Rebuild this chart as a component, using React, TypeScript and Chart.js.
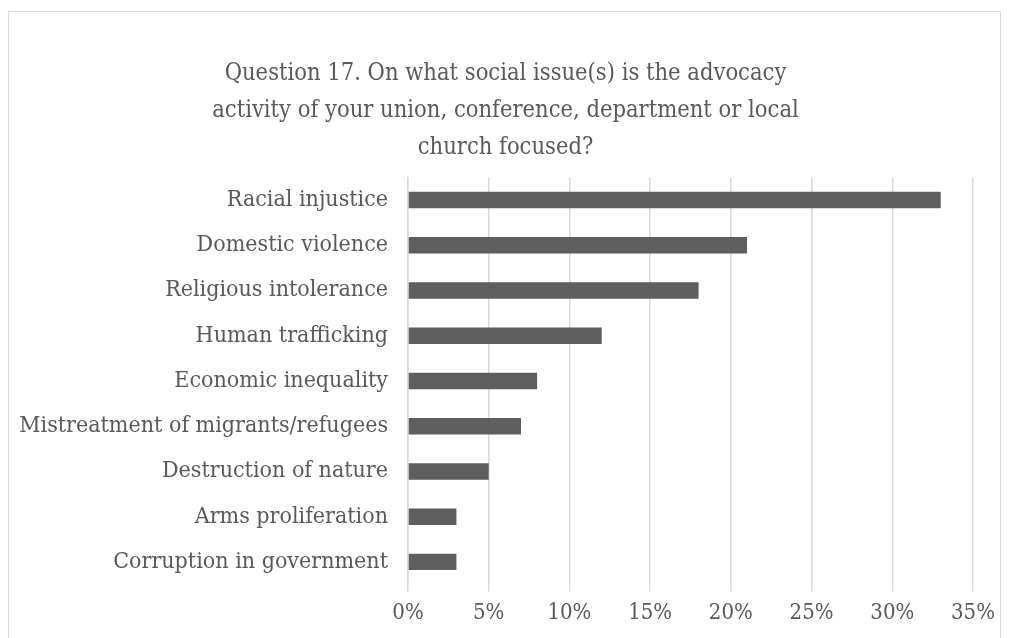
import React, { useEffect, useRef } from "react";
import { Chart, registerables } from "chart.js";

Chart.register(...registerables);

const titleLines = [
  "Question 17. On what social issue(s) is the advocacy",
  "activity of your union, conference, department or local",
  "church focused?",
];

const categories = [
  "Racial injustice",
  "Domestic violence",
  "Religious intolerance",
  "Human trafficking",
  "Economic inequality",
  "Mistreatment of migrants/refugees",
  "Destruction of nature",
  "Arms proliferation",
  "Corruption in government",
];

const percentValues = [33, 21, 18, 12, 8, 7, 5, 3, 3];

const axisMin = 0;
const axisMax = 35;
const axisStep = 5;

const FONT = "'DejaVu Serif Condensed', 'DejaVu Serif', serif";
const TEXT = "#595959";
const GRID = "#d9d9d9";

export default function App() {
  const ref = useRef<HTMLCanvasElement | null>(null);

  useEffect(() => {
    if (!ref.current) return;
    const chart = new Chart(ref.current, {
      type: "bar",
      data: {
        labels: categories,
        datasets: [
          {
            data: percentValues,
            backgroundColor: "#5e5e5e",
            borderWidth: 0,
            barPercentage: 0.36,
            categoryPercentage: 1,
          },
        ],
      },
      options: {
        indexAxis: "y",
        animation: false,
        responsive: false,
        maintainAspectRatio: false,
        layout: { padding: { left: 0, right: 0, top: 0, bottom: 4 } },
        plugins: {
          legend: { display: false },
          tooltip: { enabled: false },
          title: {
            display: true,
            text: titleLines,
            color: TEXT,
            font: { family: FONT, size: 23.5, weight: "normal", lineHeight: 1.58 },
            padding: { top: 55, bottom: 11 },
          },
        },
        scales: {
          x: {
            min: axisMin,
            max: axisMax,
            ticks: {
              stepSize: axisStep,
              color: TEXT,
              font: { family: FONT, size: 22 },
              padding: 8,
              callback: (v: any) => v + "%",
            },
            grid: { color: GRID, lineWidth: 1.5, tickLength: 7, drawTicks: true },
            border: { display: false },
          },
          y: {
            ticks: {
              color: TEXT,
              font: { family: FONT, size: 23 },
              padding: 20,
            },
            grid: { display: false, drawTicks: false },
            border: { display: true, color: GRID, width: 1.5 },
            afterFit: (scale: any) => {
              scale.width = 408;
            },
          },
          yRight: {
            type: "linear",
            position: "right",
            display: true,
            ticks: { display: false },
            grid: { display: false, drawTicks: false },
            border: { display: false },
            afterFit: (scale: any) => {
              scale.width = 38;
            },
          },
        },
      },
    });
    return () => chart.destroy();
  }, []);

  return (
    <div style={{ position: "fixed", left: 0, top: 0, width: 1011, height: 638, background: "#fff", overflow: "hidden" }}>
      <div
        style={{
          position: "absolute",
          left: 8,
          top: 11,
          width: 993,
          height: 700,
          border: "1px solid #d9d9d9",
          boxSizing: "border-box",
        }}
      />
      <canvas ref={ref} width={1011} height={638} style={{ position: "absolute", left: 0, top: 0 }} />
    </div>
  );
}
